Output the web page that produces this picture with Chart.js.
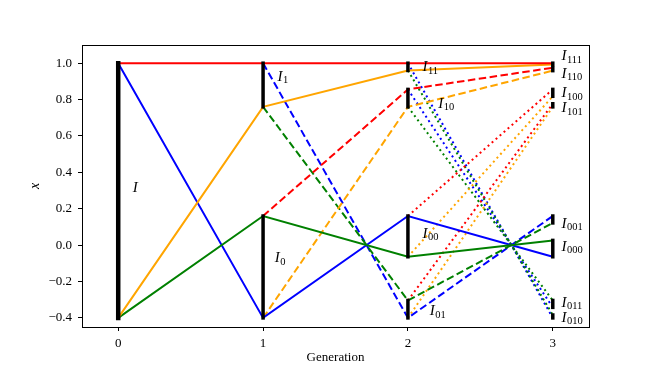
<!DOCTYPE html>
<html>
<head>
<meta charset="utf-8">
<script src="https://cdn.jsdelivr.net/npm/chart.js@4/dist/chart.umd.min.js"></script>
<style>
  body { margin: 0; background: #fff; }
  #wrap { width: 654px; height: 374px; }
</style>
</head>
<body>
<div id="wrap"><canvas id="chart" width="654" height="374"></canvas></div>
<script>
const generations = [0, 1, 2, 3];

// solid paths start at generation 0
const solidRed    = [1.0, 1.0, 1.0, 1.0];
const solidOrange = [-0.4, 0.76, 0.96, 0.993];
const solidGreen  = [-0.4, 0.16, -0.064, 0.026];
const solidBlue   = [1.0, -0.4, 0.16, -0.064];

// dashed paths start at generation 1
const dashedRed    = [null, 0.16, 0.856, 0.975];
const dashedOrange = [null, -0.4, 0.76, 0.959];
const dashedGreen  = [null, 0.76, -0.304, 0.122];
const dashedBlue   = [null, 1.0, -0.4, 0.16];

// dotted paths start at generation 2
const dottedRedA    = [null, null, 0.16, 0.856];
const dottedRedB    = [null, null, -0.304, 0.777];
const dottedOrangeA = [null, null, -0.064, 0.818];
const dottedOrangeB = [null, null, -0.4, 0.76];
const dottedGreenA  = [null, null, 0.96, -0.384];
const dottedGreenB  = [null, null, 0.76, -0.304];
const dottedBlueA   = [null, null, 1.0, -0.4];
const dottedBlueB   = [null, null, 0.856, -0.342];

// intervals (black bars)
const intervalGen  = [0, 1, 1, 2, 2, 2, 2, 3, 3, 3, 3, 3, 3, 3, 3];
const intervalLow  = [-0.4, 0.76, -0.4, 0.96, 0.76, -0.064, -0.4, 0.993, 0.959, 0.818, 0.76, 0.122, -0.064, -0.342, -0.4];
const intervalHigh = [1.0, 1.0, 0.16, 1.0, 0.856, 0.16, -0.304, 1.0, 0.975, 0.856, 0.777, 0.16, 0.026, -0.304, -0.384];

// interval labels: subscript text and anchor in data coords
const labelSub = ['', '1', '0', '11', '10', '00', '01', '111', '110', '100', '101', '001', '000', '011', '010'];
const labelX   = [0.10, 1.10, 1.08, 2.10, 2.21, 2.10, 2.15, 3.06, 3.06, 3.06, 3.06, 3.06, 3.06, 3.06, 3.06];
const labelY   = [0.32, 0.93, -0.066, 0.983, 0.783, 0.069, -0.357, 1.044, 0.948, 0.841, 0.758, 0.124, -0.003, -0.310, -0.393];

const xTicks = [0, 1, 2, 3];
const yTicks = [-0.4, -0.2, 0.0, 0.2, 0.4, 0.6, 0.8, 1.0];

const FONT = '"Liberation Serif", "DejaVu Serif", serif';
const DASHED = [7.5, 3.5];
const DOTTED = [2, 3.3];

function toPoints(arr) {
    return generations.map((g, i) => ({ x: g, y: arr[i] })).filter(p => p.y !== null);
}

function path(arr, color, dash) {
    return {
        data: toPoints(arr),
        showLine: true,
        borderColor: color,
        backgroundColor: color,
        borderWidth: 2,
        borderDash: dash,
        pointRadius: 0,
        order: 2
    };
}

const datasets = [
    path(solidRed, 'red', []),
    path(solidOrange, 'orange', []),
    path(solidGreen, 'green', []),
    path(solidBlue, 'blue', []),
    path(dashedRed, 'red', DASHED),
    path(dashedOrange, 'orange', DASHED),
    path(dashedGreen, 'green', DASHED),
    path(dashedBlue, 'blue', DASHED),
    path(dottedRedA, 'red', DOTTED),
    path(dottedRedB, 'red', DOTTED),
    path(dottedOrangeA, 'orange', DOTTED),
    path(dottedOrangeB, 'orange', DOTTED),
    path(dottedGreenA, 'green', DOTTED),
    path(dottedGreenB, 'green', DOTTED),
    path(dottedBlueA, 'blue', DOTTED),
    path(dottedBlueB, 'blue', DOTTED)
];

intervalGen.forEach((g, i) => {
    datasets.push({
        data: [{ x: g, y: intervalLow[i] }, { x: g, y: intervalHigh[i] }],
        showLine: true,
        borderColor: '#000',
        borderWidth: g === 0 ? 4.5 : 3.5,
        borderCapStyle: 'square',
        pointRadius: 0,
        order: 1
    });
});

// draws the I_w labels next to the intervals
const intervalLabels = {
    id: 'intervalLabels',
    afterDatasetsDraw(chart) {
        const { ctx, scales } = chart;
        ctx.save();
        ctx.fillStyle = '#000';
        ctx.textBaseline = 'alphabetic';
        ctx.textAlign = 'left';
        labelSub.forEach((sub, i) => {
            const px = scales.x.getPixelForValue(labelX[i]);
            const py = scales.y.getPixelForValue(labelY[i]);
            const base = py + 5;
            ctx.font = 'italic 15px ' + FONT;
            ctx.fillText('I', px, base);
            const w = ctx.measureText('I').width;
            if (sub) {
                ctx.font = '10.5px ' + FONT;
                ctx.fillText(sub, px + w + 0.5, base + 2.5);
            }
        });
        ctx.restore();
    }
};

// box around the plot area
const frame = {
    id: 'frame',
    afterDraw(chart) {
        const { ctx, chartArea: a } = chart;
        ctx.save();
        ctx.strokeStyle = '#000';
        ctx.lineWidth = 1;
        ctx.strokeRect(Math.round(a.left) + 0.5, Math.round(a.top) + 0.5,
            Math.round(a.right - a.left), Math.round(a.bottom - a.top));
        ctx.restore();
    }
};

new Chart(document.getElementById('chart'), {
    type: 'scatter',
    data: { datasets: datasets },
    plugins: [intervalLabels, frame],
    options: {
        responsive: false,
        animation: false,
        events: [],
        layout: { padding: { left: 0, top: 45, right: 65, bottom: 0 } },
        plugins: { legend: { display: false }, tooltip: { enabled: false } },
        scales: {
            x: {
                type: 'linear',
                min: -0.25,
                max: 3.25,
                afterBuildTicks: s => { s.ticks = xTicks.map(v => ({ value: v })); },
                afterFit: s => { s.height = 47; },
                ticks: {
                    color: '#000',
                    font: { family: FONT, size: 13 },
                    padding: 5,
                    callback: v => String(v)
                },
                grid: { drawOnChartArea: false, drawTicks: true, tickLength: 4, color: '#000' },
                border: { display: true, color: '#000', width: 1 },
                title: {
                    display: true,
                    text: 'Generation',
                    color: '#000',
                    font: { family: FONT, size: 13 },
                    padding: { top: 0, bottom: 9 }
                }
            },
            y: {
                type: 'linear',
                min: -0.45,
                max: 1.1,
                afterBuildTicks: s => { s.ticks = yTicks.map(v => ({ value: v })); },
                afterFit: s => { s.width = 82; },
                ticks: {
                    color: '#000',
                    font: { family: FONT, size: 13 },
                    padding: 6,
                    callback: v => (v < -1e-9 ? '\u2212' : '') + Math.abs(v).toFixed(1)
                },
                grid: { drawOnChartArea: false, drawTicks: true, tickLength: 4, color: '#000' },
                border: { display: true, color: '#000', width: 1 },
                title: {
                    display: true,
                    text: 'x',
                    color: '#000',
                    font: { family: FONT, size: 14, style: 'italic' },
                    padding: { top: 27, bottom: 0 }
                }
            }
        }
    }
});
</script>
</body>
</html>
